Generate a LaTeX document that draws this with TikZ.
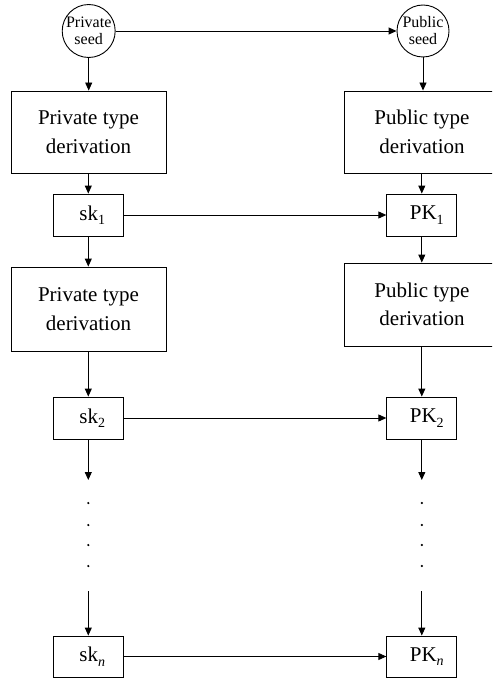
\documentclass[tikz,border=0pt]{standalone}
\usepackage{fontspec}
\setmainfont{Liberation Serif}
\usetikzlibrary{arrows.meta}
\newcommand{\mysub}[1]{\raisebox{-4.5pt}{\fontsize{14}{14}\selectfont #1}}
\begin{document}
\begin{tikzpicture}[x=1pt,y=-1pt,
  seednode/.style={circle,draw,line width=0.9pt,minimum size=52pt,inner sep=0pt,align=center,
    font=\fontsize{16}{17}\selectfont},
  derivbox/.style={rectangle,draw,line width=0.9pt,minimum width=155pt,align=center,
    font=\fontsize{21}{28.5}\selectfont},
  keybox/.style={rectangle,draw,line width=0.9pt,minimum width=70pt,minimum height=42pt,inner sep=0pt,
    font=\fontsize{21}{25}\selectfont},
  arr/.style={-{Triangle[length=8pt,width=7pt]},line width=0.9pt},
  dotnode/.style={circle,fill,inner sep=0pt,minimum size=2.4pt}]
\useasboundingbox (0,0) rectangle (492,679);
\clip (0,0) rectangle (492,679);
% seeds
\node[seednode] (pseed) at (88.7,31) {Private\\seed};
\node[seednode] (useed) at (423,31) {Public\\seed};
% derivation boxes
\node[derivbox,minimum height=82pt] (pd1) at (88.5,132) {Private type\\derivation};
\node[derivbox,minimum width=156pt,minimum height=82pt] (ud1) at (422,132) {Public type\\derivation};
\node[derivbox,minimum height=84pt] (pd2) at (88.5,309) {Private type\\derivation};
\node[derivbox,minimum width=156pt,minimum height=83pt] (ud2) at (422,304.5) {Public type\\derivation};
% keys
\node[keybox] (sk1) at (88.3,215) {\hspace*{8pt}sk\mysub{1}};
\node[keybox] (pk1) at (421.8,215) {\hspace*{10pt}PK\mysub{1}};
\node[keybox] (sk2) at (88.3,418) {\hspace*{8pt}sk\mysub{2}};
\node[keybox] (pk2) at (421.8,418) {\hspace*{10pt}PK\mysub{2}};
\node[keybox,minimum height=41pt] (skn) at (88.3,656.5) {\hspace*{8pt}sk\mysub{\textit{n}}};
\node[keybox,minimum height=41pt] (pkn) at (421.8,656.5) {\hspace*{10pt}PK\mysub{\textit{n}}};
% gap coordinates
\coordinate (ls) at (88.3,480);
\coordinate (le) at (88.3,591);
\coordinate (rs) at (421.8,480);
\coordinate (re) at (421.8,591);
% dots
\foreach \y/\n in {503/a,525/b,545/c,566/d}{
  \node[dotnode] (ld\n) at (88.3,\y) {};
  \node[dotnode] (rd\n) at (421.8,\y) {};
}
% connectors
\draw[arr] (pseed) -- (useed);
\draw[arr] (pseed) -- (pseed |- pd1.north);
\draw[arr] (useed) -- (useed |- ud1.north);
\draw[arr] (pd1.south -| sk1) -- (sk1);
\draw[arr] (ud1.south -| pk1) -- (pk1);
\draw[arr] (sk1) -- (pk1);
\draw[arr] (sk1) -- (sk1 |- pd2.north);
\draw[arr] (pk1) -- (pk1 |- ud2.north);
\draw[arr] (pd2.south -| sk2) -- (sk2);
\draw[arr] (ud2.south -| pk2) -- (pk2);
\draw[arr] (sk2) -- (pk2);
\draw[arr] (sk2) -- (ls);
\draw[arr] (pk2) -- (rs);
\draw[arr] (le) -- (skn);
\draw[arr] (re) -- (pkn);
\draw[arr] (skn) -- (pkn);
\end{tikzpicture}
\end{document}
